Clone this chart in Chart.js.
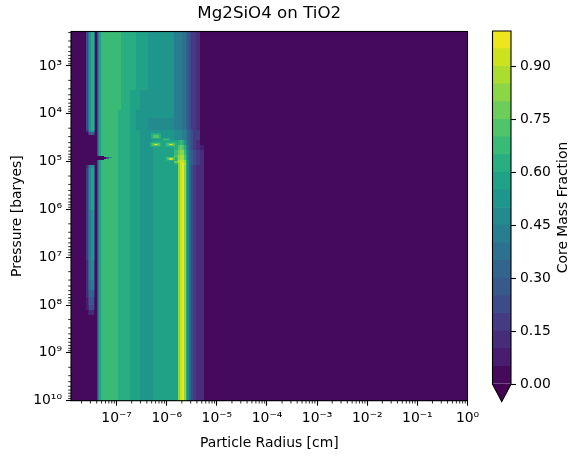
<!DOCTYPE html>
<html>
<head>
<meta charset="utf-8">
<title>Mg2SiO4 on TiO2</title>
<script src="https://cdn.jsdelivr.net/npm/chart.js@4/dist/chart.umd.min.js"></script>
<style>
  html, body { margin: 0; padding: 0; background: #fff; }
  canvas { position: absolute; top: 0; }
  #field { left: 0; }
  #colorbar { left: 480px; }
</style>
</head>
<body>
<canvas id="field" width="500" height="459"></canvas>
<canvas id="colorbar" width="100" height="459"></canvas>
<script>
// Axis ranges and ticks
const RADIUS_MIN = 1.23e-8;
const RADIUS_MAX = 1;
const PRESSURE_MIN = 190;
const PRESSURE_MAX = 1e10;
const radiusTicks = [1e-7, 1e-6, 1e-5, 1e-4, 1e-3, 1e-2, 1e-1, 1];
const radiusTickLabels = ['10⁻⁷', '10⁻⁶', '10⁻⁵', '10⁻⁴', '10⁻³', '10⁻²', '10⁻¹', '10⁰'];
const pressureTicks = [1e3, 1e4, 1e5, 1e6, 1e7, 1e8, 1e9, 1e10];
const pressureTickLabels = ['10³', '10⁴', '10⁵', '10⁶', '10⁷', '10⁸', '10⁹', '10¹⁰'];
const fractionTicks = [0, 0.15, 0.3, 0.45, 0.6, 0.75, 0.9];

// Contour levels, 0.05 apart
const fractionLevels = [0, 0.05, 0.1, 0.15, 0.2, 0.25, 0.3, 0.35, 0.4, 0.45, 0.5, 0.55, 0.6, 0.65, 0.7, 0.75, 0.8, 0.85, 0.9, 0.95, 1];

// Cell edges of the field [cm]
const radiusEdges = [
  1.23e-8, 2.45e-8, 2.63e-8, 2.81e-8, 3.08e-8, 3.54e-8, 3.71e-8, 4.01e-8, 4.26e-8, 4.52e-8, 4.77e-8,
  1.07e-7, 1.22e-7, 1.85e-7, 2.44e-7, 2.93e-7, 4.24e-7, 5.33e-7, 7.35e-7, 1.40e-6, 1.68e-6, 1.85e-6,
  1.97e-6, 2.21e-6, 2.37e-6, 2.54e-6, 2.79e-6, 3.05e-6, 3.35e-6, 3.85e-6, 4.62e-6, 5.56e-6, 1
];
// Cell edges of the field [baryes]
const pressureEdges = [
  190, 3.18e3, 8.34e3, 1.22e4, 2.18e4, 2.46e4, 2.78e4, 3.53e4, 4.50e4, 5.71e4, 7.28e4, 9.27e4,
  1.07e5, 1.18e5, 1.36e5, 1.03e6, 1.14e7, 3.0e7, 4.85e7, 6.8e7, 1e8, 1.27e8, 1.62e8, 1e10
];

// Small-radius strip, first six columns
const stripFull = [0, 0.2, 0.36, 0.51, 0.61, 0.36];
const stripEndA = [0, 0.11, 0.26, 0.46, 0.56, 0.26];
const stripEndB = [0, 0, 0.11, 0.26, 0.31, 0.11];
const stripOff = [0, 0, 0, 0, 0, 0];
const stripStartA = [0, 0.11, 0.26, 0.41, 0.51, 0.21];
const stripMid = [0, 0.16, 0.31, 0.46, 0.56, 0.26];
const stripLower = [0, 0.16, 0.31, 0.41, 0.51, 0.21];
const stripFadeA = [0, 0.11, 0.26, 0.41, 0.46, 0.16];
const stripFadeB = [0, 0.11, 0.26, 0.36, 0.41, 0.16];
const stripFadeC = [0, 0.11, 0.21, 0.31, 0.31, 0.11];
const stripFadeD = [0, 0.06, 0.16, 0.26, 0.26, 0.06];
const stripFadeE = [0, 0.06, 0.11, 0.21, 0.21, 0.06];
const stripFadeF = [0, 0, 0.06, 0.11, 0.11, 0];

// Remaining columns for each pressure band
const mainTop = [0, 0.2, 0.41, 0.56, 0.67, 0.67, 0.62, 0.62, 0.56, 0.56, 0.51, 0.51, 0.51, 0.41, 0.41, 0.41, 0.36, 0.36, 0.31, 0.26, 0.21, 0.16, 0.16, 0.11, 0, 0];
const mainBendA = [0, 0.2, 0.41, 0.56, 0.67, 0.67, 0.62, 0.56, 0.56, 0.51, 0.51, 0.51, 0.51, 0.41, 0.41, 0.41, 0.36, 0.36, 0.31, 0.26, 0.21, 0.16, 0.16, 0.11, 0, 0];
const mainBendB = [0, 0.2, 0.41, 0.56, 0.67, 0.62, 0.62, 0.56, 0.51, 0.51, 0.51, 0.51, 0.51, 0.41, 0.41, 0.41, 0.36, 0.36, 0.31, 0.26, 0.21, 0.16, 0.16, 0.11, 0, 0];
const mainBendC = [0, 0.2, 0.41, 0.56, 0.67, 0.62, 0.62, 0.56, 0.51, 0.51, 0.46, 0.46, 0.46, 0.41, 0.41, 0.41, 0.36, 0.36, 0.31, 0.26, 0.21, 0.16, 0.16, 0.11, 0, 0];
const mainHotA = [0, 0.2, 0.41, 0.56, 0.67, 0.62, 0.62, 0.56, 0.56, 0.51, 0.51, 0.51, 0.51, 0.46, 0.46, 0.46, 0.41, 0.41, 0.36, 0.31, 0.26, 0.21, 0.16, 0.16, 0, 0];
const mainHotB = [0, 0.2, 0.41, 0.56, 0.67, 0.62, 0.62, 0.56, 0.56, 0.51, 0.51, 0.56, 0.56, 0.56, 0.62, 0.67, 0.62, 0.51, 0.41, 0.31, 0.26, 0.21, 0.16, 0.11, 0, 0];
const mainHotC = [0, 0.2, 0.41, 0.56, 0.67, 0.62, 0.62, 0.56, 0.56, 0.51, 0.51, 0.56, 0.56, 0.62, 0.72, 0.77, 0.72, 0.61, 0.46, 0.36, 0.27, 0.22, 0.16, 0.11, 0.06, 0];
const mainHotD = [0, 0.2, 0.41, 0.56, 0.67, 0.62, 0.62, 0.56, 0.56, 0.51, 0.51, 0.56, 0.56, 0.67, 0.77, 0.82, 0.82, 0.67, 0.51, 0.41, 0.31, 0.26, 0.21, 0.16, 0.11, 0];
const mainHotE = [0, 0.2, 0.41, 0.56, 0.67, 0.62, 0.62, 0.56, 0.56, 0.51, 0.51, 0.56, 0.56, 0.72, 0.82, 0.88, 0.86, 0.72, 0.56, 0.41, 0.32, 0.27, 0.21, 0.16, 0.11, 0];
const mainHotF = [0, 0.2, 0.41, 0.56, 0.67, 0.62, 0.62, 0.56, 0.56, 0.51, 0.51, 0.56, 0.56, 0.77, 0.88, 0.95, 0.95, 0.82, 0.62, 0.46, 0.32, 0.27, 0.21, 0.16, 0.11, 0];
const mainHotG = [0, 0.2, 0.41, 0.56, 0.67, 0.62, 0.62, 0.56, 0.56, 0.51, 0.51, 0.56, 0.56, 0.62, 0.82, 0.92, 0.97, 0.87, 0.61, 0.46, 0.32, 0.27, 0.21, 0.16, 0.11, 0];
const mainBase = [0, 0.2, 0.41, 0.56, 0.67, 0.62, 0.62, 0.56, 0.56, 0.51, 0.51, 0.56, 0.56, 0.58, 0.82, 0.95, 0.97, 0.82, 0.61, 0.46, 0.31, 0.21, 0.16, 0.11, 0.11, 0];

// One strip and one main profile per pressure band, top to bottom
const bandStrips = [
  stripFull, stripFull, stripFull, stripFull, stripEndA, stripEndB, stripOff, stripOff, stripOff, stripOff, stripOff, stripOff,
  stripOff, stripStartA, stripMid, stripLower, stripFadeA, stripFadeB, stripFadeC, stripFadeD, stripFadeE, stripFadeF, stripOff
];
const bandMains = [
  mainTop, mainBendA, mainBendB, mainBendC, mainHotA, mainHotA, mainHotA, mainHotB, mainHotC, mainHotD, mainHotE, mainHotF,
  mainHotG, mainBase, mainBase, mainBase, mainBase, mainBase, mainBase, mainBase, mainBase, mainBase, mainBase
];

// Local features laid over the bands: dark notch, two faint spots, three bright spots
const spotRadiusLow = [
  4.01e-8, 4.01e-8, 6.14e-8, 7.05e-8,
  4.86e-7, 5.33e-7, 8.05e-7, 8.83e-7,
  4.65e-7, 5.09e-7, 5.58e-7, 5.84e-7,
  9.25e-7, 1.01e-6, 1.11e-6, 1.16e-6,
  9.25e-7, 1.01e-6, 1.11e-6, 1.16e-6
];
const spotRadiusHigh = [
  5.61e-8, 6.14e-8, 7.05e-8, 8.09e-8,
  7.69e-7, 7.01e-7, 1.16e-6, 1.06e-6,
  8.05e-7, 7.35e-7, 6.70e-7, 6.40e-7,
  1.61e-6, 1.47e-6, 1.34e-6, 1.28e-6,
  1.61e-6, 1.47e-6, 1.34e-6, 1.28e-6
];
const spotPressureLow = [
  7.45e4, 7.82e4, 7.82e4, 8.02e4,
  2.52e4, 2.71e4, 3.21e4, 3.36e4,
  3.98e4, 4.08e4, 4.18e4, 4.18e4,
  3.98e4, 4.08e4, 4.18e4, 4.18e4,
  7.82e4, 8.02e4, 8.41e4, 8.41e4
];
const spotPressureHigh = [
  9.03e4, 8.61e4, 8.61e4, 8.41e4,
  3.36e4, 3.13e4, 3.71e4, 3.53e4,
  4.83e4, 4.72e4, 4.60e4, 4.60e4,
  4.83e4, 4.72e4, 4.60e4, 4.60e4,
  9.49e4, 9.27e4, 9.03e4, 9.03e4
];
const spotValues = [
  0, 0, 0.26, 0.51,
  0.62, 0.72, 0.62, 0.68,
  0.62, 0.72, 0.88, 0.97,
  0.62, 0.72, 0.88, 0.97,
  0.62, 0.72, 0.85, 0.92
];

// viridis, sampled at the middle of each level
const levelColors = [
  '#460a5d', '#481c6e', '#472c7a', '#443b84', '#3e4b89', '#38598c', '#32658e', '#2c728e', '#287e8e', '#238a8d',
  '#1f968b', '#20a286', '#28ae80', '#39ba76', '#50c46a', '#6ccd5a', '#8bd646', '#acdc30', '#cde11d', '#eee51c'
];
const underColor = '#440154';

const TICK_COLOR = '#000';
const MAJOR_TICK = 5;
const MINOR_TICK = 2.8;

Chart.defaults.font.family = '"DejaVu Sans", sans-serif';
Chart.defaults.font.size = 13.9;
Chart.defaults.color = '#000';
Chart.defaults.animation = false;

function levelColor(v) {
  return levelColors[Math.min(levelColors.length - 1, Math.floor(v / 0.05))];
}

function buildCells() {
  const cells = [];
  bandMains.forEach((main, r) => {
    const values = bandStrips[r].concat(main);
    values.forEach((v, c) => {
      cells.push({
        x: radiusEdges[c], y: pressureEdges[r], v,
        x1: radiusEdges[c + 1], y1: pressureEdges[r + 1]
      });
    });
  });
  spotValues.forEach((v, i) => {
    cells.push({
      x: spotRadiusLow[i], y: spotPressureLow[i], v,
      x1: spotRadiusHigh[i], y1: spotPressureHigh[i]
    });
  });
  return cells;
}

// Paints the field cells in data space, through the chart's scales
const heatCells = {
  id: 'heatCells',
  beforeDatasetsDraw(chart) {
    const { ctx, scales } = chart;
    ctx.save();
    chart.data.datasets[0].data.forEach(cell => {
      const left = Math.round(scales.x.getPixelForValue(cell.x));
      const right = Math.round(scales.x.getPixelForValue(cell.x1));
      const top = Math.round(scales.y.getPixelForValue(cell.y));
      const bottom = Math.round(scales.y.getPixelForValue(cell.y1));
      ctx.fillStyle = levelColor(cell.v);
      ctx.fillRect(left, top, right - left, bottom - top);
    });
    ctx.restore();
  }
};

function minorValues(min, max) {
  const out = [];
  for (let e = Math.floor(Math.log10(min)); e < Math.ceil(Math.log10(max)); e++) {
    for (let m = 2; m < 10; m++) {
      const v = m * Math.pow(10, e);
      if (v >= min && v <= max) out.push(v);
    }
  }
  return out;
}

// Chart.js has one tick length per axis, so the short log ticks and the frame go here
const frameAndMinorTicks = {
  id: 'frameAndMinorTicks',
  afterDraw(chart) {
    const { ctx, chartArea: area, scales } = chart;
    ctx.save();
    ctx.strokeStyle = TICK_COLOR;
    ctx.lineWidth = 0.83;
    ctx.beginPath();
    minorValues(RADIUS_MIN, RADIUS_MAX).forEach(v => {
      const px = scales.x.getPixelForValue(v);
      ctx.moveTo(px, area.bottom);
      ctx.lineTo(px, area.bottom + MINOR_TICK);
    });
    minorValues(PRESSURE_MIN, PRESSURE_MAX).forEach(v => {
      const py = scales.y.getPixelForValue(v);
      ctx.moveTo(area.left, py);
      ctx.lineTo(area.left - MINOR_TICK, py);
    });
    ctx.stroke();
    ctx.lineWidth = 1.1;
    ctx.strokeRect(area.left, area.top, area.right - area.left, area.bottom - area.top);
    ctx.restore();
  }
};

// Under-range triangle, outline and upward-reading label of the colour bar
const colorbarExtras = {
  id: 'colorbarExtras',
  afterDraw(chart) {
    const { ctx, chartArea: area } = chart;
    const mid = (area.left + area.right) / 2;
    const tip = area.bottom + (area.bottom - area.top) * 0.05;
    ctx.save();
    ctx.beginPath();
    ctx.moveTo(area.left, area.bottom);
    ctx.lineTo(mid, tip);
    ctx.lineTo(area.right, area.bottom);
    ctx.closePath();
    ctx.fillStyle = underColor;
    ctx.fill();
    ctx.beginPath();
    ctx.moveTo(area.left, area.bottom);
    ctx.lineTo(area.left, area.top);
    ctx.lineTo(area.right, area.top);
    ctx.lineTo(area.right, area.bottom);
    ctx.lineTo(mid, tip);
    ctx.closePath();
    ctx.strokeStyle = TICK_COLOR;
    ctx.lineWidth = 1.1;
    ctx.stroke();
    ctx.translate(83, (area.top + area.bottom) / 2);
    ctx.rotate(-Math.PI / 2);
    ctx.fillStyle = '#000';
    ctx.font = '13.9px "DejaVu Sans", sans-serif';
    ctx.textAlign = 'center';
    ctx.textBaseline = 'middle';
    ctx.fillText('Core Mass Fraction', 0, 0);
    ctx.restore();
  }
};

const fieldChart = new Chart(document.getElementById('field'), {
  type: 'scatter',
  data: {
    datasets: [{ data: buildCells(), pointRadius: 0 }]
  },
  options: {
    responsive: false,
    layout: { padding: { top: 0, right: 32.5, bottom: 0, left: 0 } },
    plugins: {
      legend: { display: false },
      tooltip: { enabled: false },
      title: {
        display: true,
        text: 'Mg2SiO4 on TiO2',
        fullSize: false,
        color: '#000',
        font: { size: 16.67, weight: 'normal' },
        padding: { top: 4, bottom: 7.5 }
      }
    },
    scales: {
      x: {
        type: 'logarithmic',
        min: RADIUS_MIN,
        max: RADIUS_MAX,
        afterBuildTicks: scale => { scale.ticks = radiusTicks.map(value => ({ value })); },
        afterFit: scale => { scale.height = 58.3; },
        border: { display: false },
        grid: { drawOnChartArea: false, tickLength: MAJOR_TICK, tickWidth: 1.1, tickColor: TICK_COLOR },
        ticks: {
          autoSkip: false, maxRotation: 0, padding: 4,
          callback: (value, i) => radiusTickLabels[i]
        },
        title: { display: true, text: 'Particle Radius [cm]', padding: { top: 0, bottom: 7 } }
      },
      y: {
        type: 'logarithmic',
        reverse: true,
        min: PRESSURE_MIN,
        max: PRESSURE_MAX,
        afterBuildTicks: scale => { scale.ticks = pressureTicks.map(value => ({ value })); },
        afterFit: scale => { scale.width = 71; },
        border: { display: false },
        grid: { drawOnChartArea: false, tickLength: MAJOR_TICK, tickWidth: 1.1, tickColor: TICK_COLOR },
        ticks: {
          autoSkip: false, padding: 4,
          callback: (value, i) => pressureTickLabels[i]
        },
        title: { display: true, text: 'Pressure [baryes]', padding: { top: 9, bottom: 0 } }
      }
    }
  },
  plugins: [heatCells, frameAndMinorTicks]
});

const colorbarChart = new Chart(document.getElementById('colorbar'), {
  type: 'bar',
  data: {
    labels: [''],
    datasets: levelColors.map((color, i) => ({
      data: [fractionLevels[i + 1] - fractionLevels[i]],
      backgroundColor: color,
      borderWidth: 0,
      barPercentage: 1,
      categoryPercentage: 1
    }))
  },
  options: {
    responsive: false,
    layout: { padding: { top: 31, right: 0, bottom: 75, left: 12.5 } },
    plugins: {
      legend: { display: false },
      tooltip: { enabled: false }
    },
    scales: {
      x: { display: false, stacked: true },
      y: {
        position: 'right',
        stacked: true,
        min: 0,
        max: 1,
        afterBuildTicks: scale => { scale.ticks = fractionTicks.map(value => ({ value })); },
        afterFit: scale => { scale.width = 69; },
        border: { display: false },
        grid: { drawOnChartArea: false, tickLength: MAJOR_TICK, tickWidth: 1.1, tickColor: TICK_COLOR },
        ticks: {
          padding: 4,
          callback: value => value.toFixed(2)
        }
      }
    }
  },
  plugins: [colorbarExtras]
});
</script>
</body>
</html>
